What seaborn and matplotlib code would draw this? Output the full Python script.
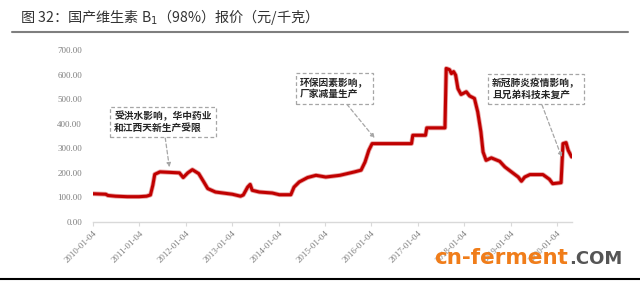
import matplotlib
matplotlib.use("Agg")
import matplotlib.pyplot as plt
import seaborn as sns
import pandas as pd

dates = ["2010-01-04", "2010-04-15", "2010-05-01", "2010-07-01", "2010-10-01",
         "2011-01-01", "2011-03-01", "2011-04-01", "2011-04-20", "2011-05-05",
         "2011-06-15", "2011-11-15", "2011-12-15", "2012-01-20", "2012-02-25",
         "2012-04-15", "2012-05-25", "2012-06-25", "2012-08-25", "2013-01-05",
         "2013-03-10", "2013-04-01", "2013-05-05", "2013-05-25", "2013-06-10",
         "2013-08-05", "2013-11-15", "2014-01-10", "2014-04-10", "2014-05-05",
         "2014-06-15", "2014-08-20", "2014-10-25", "2015-01-10", "2015-05-01",
         "2015-08-25", "2015-10-15", "2015-11-15", "2015-12-15", "2016-01-10",
         "2016-11-15", "2016-11-25", "2017-03-05", "2017-03-15", "2017-08-05",
         "2017-08-15", "2017-09-10", "2017-09-25", "2017-10-12", "2017-10-28",
         "2017-11-15", "2017-12-10", "2018-01-20", "2018-02-15", "2018-03-25",
         "2018-04-20", "2018-05-15", "2018-06-01", "2018-06-25", "2018-08-05",
         "2018-10-10", "2018-11-20", "2019-01-10", "2019-03-05", "2019-03-30",
         "2019-04-25", "2019-06-05", "2019-09-15", "2019-11-05", "2019-12-01",
         "2020-02-05", "2020-02-20", "2020-03-15", "2020-04-01", "2020-04-28"]
prices = [115, 113, 108, 105, 103,
          103, 105, 110, 150, 194,
          204, 200, 181, 200, 213,
          197, 163, 136, 122, 113,
          105, 110, 142, 153, 129,
          122, 118, 111, 111, 142,
          163, 181, 190, 183, 190,
          204, 211, 244, 292, 319,
          319, 353, 353, 383, 383,
          625, 620, 604, 612, 598,
          543, 519, 530, 513, 503,
          448, 367, 285, 251, 261,
          247, 224, 204, 183, 166,
          183, 193, 193, 174, 156,
          160, 319, 323, 292, 265]

tick_labels = ["2010-01-04", "2011-01-04", "2012-01-04", "2013-01-04", "2014-01-04",
               "2015-01-04", "2016-01-04", "2017-01-04", "2018-01-04", "2019-01-04",
               "2020-01-04"]
y_ticks = [0, 100, 200, 300, 400, 500, 600, 700]

title = "图 32：国产维生素 B$_1$（98%）报价（元/千克）"
notes = ["受洪水影响，华中药业\n和江西天新生产受限",
         "环保因素影响，\n厂家减量生产",
         "新冠肺炎疫情影响，\n且兄弟科技未复产"]
note_dates = ["2011-08-28", "2016-01-30", "2020-02-10"]
note_vals = [223, 341, 264]

sns.set_style("white")
plt.rcParams['font.family'] = ['Noto Sans CJK SC', 'DejaVu Sans']

df = pd.DataFrame({"date": pd.to_datetime(dates), "price": prices})

fig = plt.figure(figsize=(6.4, 2.81), dpi=100)
ax = fig.add_axes([93/640, 1-222/281, (572-93)/640, (222-50)/281])
sns.lineplot(data=df, x="date", y="price", ax=ax, color="#E8A0A0", linewidth=3.4)
sns.lineplot(data=df, x="date", y="price", ax=ax, color="#C00000", linewidth=2.2)

ax.set_ylim(0, 700)
ax.set_xlim(pd.Timestamp("2010-01-04"), pd.Timestamp("2020-05-01"))
ax.set_yticks(y_ticks)
ax.set_yticklabels([f"{v:.2f}" for v in y_ticks], fontsize=6.5, color="#7F7F7F",
                   family=['Liberation Serif', 'DejaVu Serif'])
tick_dates = pd.to_datetime(tick_labels)
ax.set_xticks(tick_dates)
ax.set_xticklabels(tick_labels, rotation=45, ha="right", rotation_mode="anchor",
                   fontsize=6.5, color="#7F7F7F", family=['Liberation Serif', 'DejaVu Serif'])
ax.set_xlabel("")
ax.set_ylabel("")
for s in ["top", "right", "left"]:
    ax.spines[s].set_visible(False)
ax.spines["bottom"].set_color("#D9D9D9")
ax.spines["bottom"].set_linewidth(1.0)
ax.tick_params(axis="x", length=3, color="#D9D9D9", pad=2, bottom=True)
ax.tick_params(axis="y", length=0, pad=8)

centers = [(163/640, 1-122/281), (334/640, 1-88.5/281), (536/640, 1-89/281)]
for txt, d, v, c in zip(notes, note_dates, note_vals, centers):
    ax.annotate(txt, xy=(pd.Timestamp(d), v), xycoords="data",
                xytext=c, textcoords="figure fraction",
                ha="center", va="center", multialignment="left",
                fontsize=7, color="#262626", fontweight="bold",
                bbox=dict(boxstyle="square,pad=0.45", fc="white", ec="#A6A6A6",
                          ls=(0, (3, 2)), lw=0.9),
                arrowprops=dict(arrowstyle="-|>", color="#A6A6A6", lw=0.9,
                                ls=(0, (3, 2)), mutation_scale=6,
                                shrinkA=0, shrinkB=0))

fig.text(20/640, 1-17/281, title, fontsize=10.2, color="#333333", va="center", ha="left")
fig.add_artist(plt.Line2D([12/640, 628/640], [1-32/281, 1-32/281], color="#7F7F7F", lw=1.5))
fig.add_artist(plt.Line2D([0, 1], [1-279/281, 1-279/281], color="black", lw=1.5))

wm = fig.text(434/640, 1-258/281, "cn-ferment", fontsize=15.5, fontweight="bold",
              color="#F07D1A", va="center", ha="left", family=['DejaVu Sans'])
fig.canvas.draw()
ext = wm.get_window_extent()
fig.text(ext.x1 / 640 + 1/640, 1-259/281, ".COM", fontsize=13, fontweight="bold",
         color="#555555", va="center", ha="left", family=['DejaVu Sans'])

fig.savefig("out.png", dpi=100)
